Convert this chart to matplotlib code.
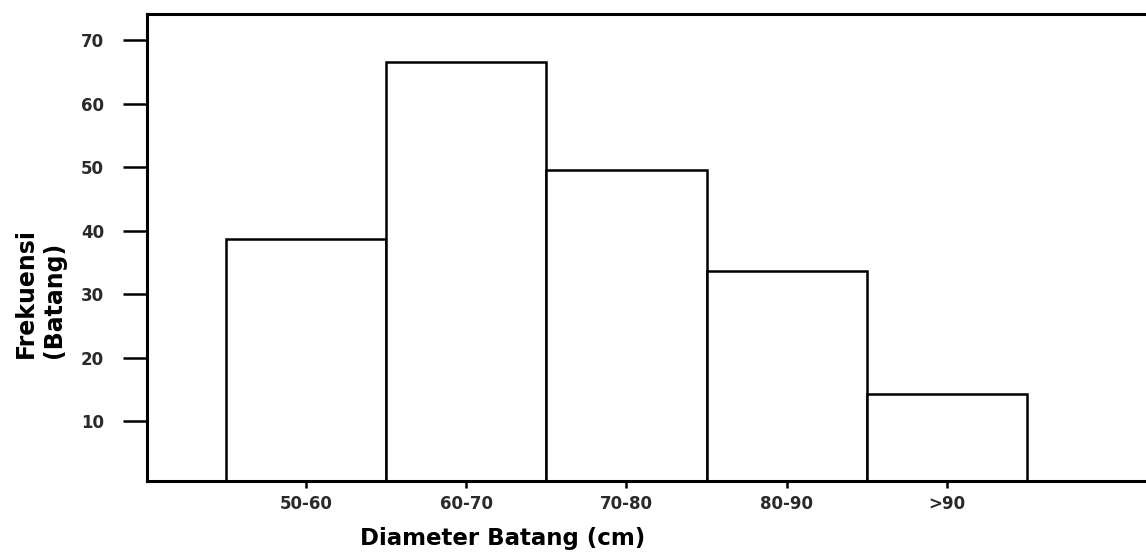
import matplotlib
matplotlib.use("Agg")
import matplotlib.pyplot as plt
import numpy as np

categories = ["50-60", "60-70", "70-80", "80-90", ">90"]
frequencies = [38.7, 66.5, 49.6, 33.7, 14.3]
yticks = [10, 20, 30, 40, 50, 60, 70]

plt.rcParams['font.family'] = ['DejaVu Sans']

fig = plt.figure(figsize=(11.46, 5.53), dpi=100)
ax = fig.add_axes([0.1283, 0.130, 0.88, 0.8445])

x = np.arange(len(categories))
ax.bar(x, frequencies, width=1.0, color='white', edgecolor='black', linewidth=1.8)

ax.set_xlim(-0.99, 5.3)
ax.set_ylim(0.55, 74.1)
ax.set_xticks(x)
ax.set_xticklabels(categories, fontsize=12, fontweight='bold', color='#2a2a2a')
ax.set_yticks(yticks)
ax.set_yticklabels([str(v) for v in yticks], fontsize=12, fontweight='bold', color='#2a2a2a')
ax.tick_params(axis='y', direction='out', length=17, width=1.8, pad=14)
ax.tick_params(axis='x', direction='out', length=5, width=1.8, pad=5)

for s in ['left', 'bottom', 'top']:
    ax.spines[s].set_linewidth(2.2)
ax.spines['right'].set_visible(False)

fig.text(0.439, 0.027, "Diameter Batang (cm)", fontsize=16.5, fontweight='bold',
         ha='center', va='center')
fig.text(0.035, 0.3526, "Frekuensi\n(Batang)", fontsize=17, fontweight='bold',
         ha='center', va='bottom', rotation=90, multialignment='left',
         linespacing=1.25)

fig.savefig("out.png", dpi=100)
